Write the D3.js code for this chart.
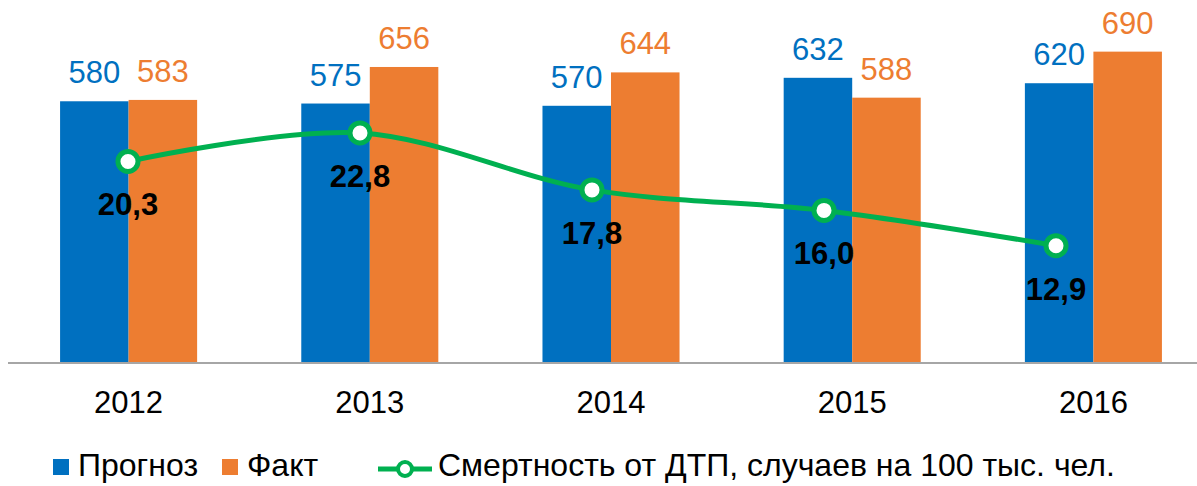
<!DOCTYPE html>
<html>
<head>
<meta charset="utf-8">
<script src="https://cdn.jsdelivr.net/npm/d3@7"></script>
<style>
  html, body { margin: 0; padding: 0; background: #fff; }
  svg { display: block; font-family: "Liberation Sans", Arial, sans-serif; }
</style>
</head>
<body>
<svg id="chart" width="1197" height="486"></svg>
<script>
// Road traffic mortality: forecast vs actual, with rate per 100k population
const years = ["2012", "2013", "2014", "2015", "2016"];
const forecast = [580, 575, 570, 632, 620];
const actual = [583, 656, 644, 588, 690];
const deathRate = [20.3, 22.8, 17.8, 16.0, 12.9];
const rateLabels = ["20,3", "22,8", "17,8", "16,0", "12,9"];
const seriesNames = ["Прогноз", "Факт"];
const rateName = "Смертность от ДТП, случаев на 100 тыс. чел.";

const colors = { forecast: "#0070C0", actual: "#ED7D31", rate: "#00B050" };

const svg = d3.select("#chart");
const plot = { left: 8, right: 1214, top: 2, bottom: 363 };

// Primary scales (bars)
const x = d3.scaleBand().domain(years).range([plot.left, plot.right]).padding(0);
const xSub = d3.scaleBand().domain(seriesNames)
  .range([0, x.bandwidth()]).paddingInner(0).paddingOuter(0.76);
const y = d3.scaleLinear().domain([0, 800]).range([plot.bottom, plot.top]);

// Secondary scales (line)
const x2 = d3.scaleBand().domain(years).range([plot.left + 4, plot.left + 4 + 5 * 232]).padding(0);
const y2 = d3.scaleLinear().domain([2.6, 34.3]).range([plot.bottom, plot.top]);

const rows = years.map((yr, i) => ({
  year: yr,
  values: [
    { key: seriesNames[0], value: forecast[i], color: colors.forecast },
    { key: seriesNames[1], value: actual[i], color: colors.actual }
  ],
  rate: deathRate[i],
  rateLabel: rateLabels[i]
}));

// Bars
const groups = svg.append("g").selectAll("g")
  .data(rows).join("g")
  .attr("transform", d => `translate(${x(d.year)},0)`);

groups.selectAll("rect")
  .data(d => d.values).join("rect")
  .attr("x", d => xSub(d.key))
  .attr("y", d => y(d.value))
  .attr("width", xSub.bandwidth())
  .attr("height", d => y(0) - y(d.value))
  .attr("fill", d => d.color);

groups.selectAll("text.val")
  .data(d => d.values).join("text")
  .attr("class", "val")
  .attr("x", d => xSub(d.key) + xSub.bandwidth() / 2)
  .attr("y", d => y(d.value) - 18)
  .attr("text-anchor", "middle")
  .attr("font-size", 31)
  .attr("fill", d => d.color)
  .text(d => d.value);

// Category axis
const xAxis = svg.append("g")
  .attr("transform", `translate(0,${plot.bottom})`)
  .call(d3.axisBottom(x).tickSize(0).tickPadding(0));
xAxis.select(".domain").attr("stroke", "#A6A6A6").attr("stroke-width", 2)
  .attr("d", `M${plot.left},0H${plot.right}`);
xAxis.selectAll(".tick text")
  .attr("font-size", 31).attr("fill", "#000")
  .attr("font-family", "Liberation Sans, Arial, sans-serif")
  .attr("dy", 0).attr("y", 50);

// Rate line
const line = d3.line()
  .x(d => x2(d.year) + x2.bandwidth() / 2)
  .y(d => y2(d.rate))
  .curve(d3.curveCatmullRom.alpha(0.5));

svg.append("path")
  .datum(rows)
  .attr("d", line)
  .attr("fill", "none")
  .attr("stroke", colors.rate)
  .attr("stroke-width", 5);

svg.append("g").selectAll("circle")
  .data(rows).join("circle")
  .attr("cx", d => x2(d.year) + x2.bandwidth() / 2)
  .attr("cy", d => y2(d.rate))
  .attr("r", 10)
  .attr("fill", "#fff")
  .attr("stroke", colors.rate)
  .attr("stroke-width", 5);

svg.append("g").selectAll("text")
  .data(rows).join("text")
  .attr("x", d => x2(d.year) + x2.bandwidth() / 2)
  .attr("y", d => y2(d.rate) + 54)
  .attr("text-anchor", "middle")
  .attr("font-size", 31)
  .attr("font-weight", "bold")
  .attr("fill", "#000")
  .text(d => d.rateLabel);

// Legend
const legend = svg.append("g").attr("font-size", 32).attr("fill", "#000");
const legendY = 476;
const barLegend = [
  { name: seriesNames[0], color: colors.forecast, x: 53 },
  { name: seriesNames[1], color: colors.actual, x: 222 }
];
barLegend.forEach(item => {
  legend.append("rect")
    .attr("x", item.x).attr("y", legendY - 17)
    .attr("width", 16).attr("height", 16)
    .attr("fill", item.color);
  legend.append("text")
    .attr("x", item.x + 25).attr("y", legendY)
    .text(item.name);
});
legend.append("line")
  .attr("x1", 378).attr("x2", 432)
  .attr("y1", legendY - 7).attr("y2", legendY - 7)
  .attr("stroke", colors.rate).attr("stroke-width", 5);
legend.append("circle")
  .attr("cx", 405).attr("cy", legendY - 7).attr("r", 7)
  .attr("fill", "#fff").attr("stroke", colors.rate).attr("stroke-width", 4);
legend.append("text")
  .attr("x", 438).attr("y", legendY)
  .text(rateName);
</script>
</body>
</html>
